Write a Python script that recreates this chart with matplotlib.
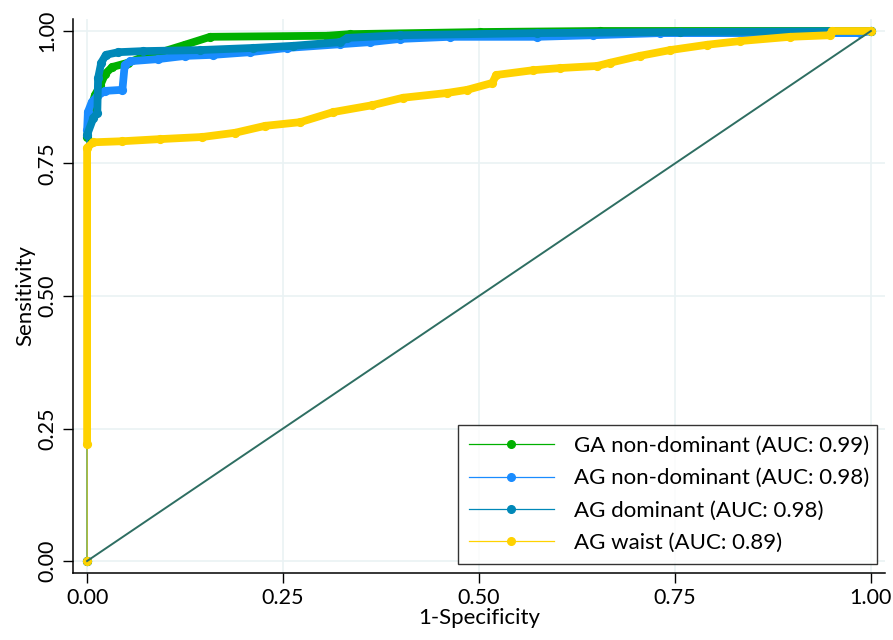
import matplotlib
matplotlib.use("Agg")
import matplotlib.pyplot as plt
from matplotlib.lines import Line2D

plt.rcParams['font.family'] = ['Lato', 'DejaVu Sans']

# ---- data ----
ga_nd_fpr = [0, 0, 0.003, 0.006, 0.010, 0.017, 0.023, 0.032, 0.052, 0.068, 0.090, 0.125, 0.157, 0.306, 0.335, 0.501, 0.654, 1.0]
ga_nd_tpr = [0, 0.80, 0.836, 0.860, 0.879, 0.898, 0.919, 0.932, 0.940, 0.949, 0.958, 0.974, 0.989, 0.991, 0.994, 0.998, 1.0, 1.0]

ag_nd_fpr = [0, 0, 0.001, 0.006, 0.013, 0.023, 0.045, 0.048, 0.055, 0.091, 0.125, 0.161, 0.208, 0.255, 0.323, 0.361, 0.399, 0.463, 0.574, 0.645, 0.731, 0.986, 1.0]
ag_nd_tpr = [0, 0.813, 0.847, 0.866, 0.877, 0.887, 0.889, 0.936, 0.943, 0.947, 0.953, 0.955, 0.960, 0.968, 0.975, 0.979, 0.985, 0.989, 0.989, 0.992, 0.996, 0.996, 1.0]

ag_d_fpr = [0, 0, 0.008, 0.013, 0.014, 0.018, 0.024, 0.040, 0.071, 0.144, 0.212, 0.263, 0.323, 0.332, 0.399, 0.574, 0.756, 1.0]
ag_d_tpr = [0, 0.804, 0.836, 0.845, 0.911, 0.940, 0.955, 0.960, 0.962, 0.964, 0.968, 0.972, 0.979, 0.987, 0.992, 0.996, 0.998, 1.0]

ag_w_fpr = [0, 0, 0, 0.008, 0.045, 0.093, 0.147, 0.189, 0.227, 0.272, 0.314, 0.364, 0.403, 0.459, 0.485, 0.517, 0.522, 0.569, 0.603, 0.651, 0.667, 0.705, 0.744, 0.791, 0.833, 0.897, 0.948, 0.950, 1.0]
ag_w_tpr = [0, 0.22, 0.78, 0.790, 0.792, 0.796, 0.800, 0.808, 0.821, 0.828, 0.847, 0.860, 0.874, 0.883, 0.889, 0.902, 0.917, 0.926, 0.930, 0.934, 0.940, 0.953, 0.964, 0.974, 0.981, 0.989, 0.992, 1.0, 1.0]

labels = ["GA non-dominant (AUC: 0.99)", "AG non-dominant (AUC: 0.98)",
          "AG dominant (AUC: 0.98)", "AG waist (AUC: 0.89)"]
colors = ["#00b000", "#1a8cff", "#0088b8", "#ffd200"]
ref_color = "#2e6e62"

ticks = [0, 0.25, 0.5, 0.75, 1.0]
tick_labels = ["0.00", "0.25", "0.50", "0.75", "1.00"]

series = [(ga_nd_fpr, ga_nd_tpr), (ag_nd_fpr, ag_nd_tpr),
          (ag_d_fpr, ag_d_tpr), (ag_w_fpr, ag_w_tpr)]

fig = plt.figure(figsize=(8.93, 6.40), dpi=100)
ax = fig.add_axes([73/893, 1-573/640, (885-73)/893, (573-19)/640])

for t in ticks:
    ax.axhline(t, color="#eaf2f4", lw=1.2, zorder=0)
    ax.axvline(t, color="#eaf2f4", lw=1.2, zorder=0)

handles = []
for (fx, ty), c, lab in zip(series, colors, labels):
    ax.plot(fx, ty, color=c, lw=0.8, zorder=2)
    ax.plot(fx[1:], ty[1:], color=c, lw=5.6, solid_capstyle='round',
            solid_joinstyle='round', zorder=2)
    ax.plot(fx, ty, ls='none', marker='o', ms=5.6, color=c, mec=c, zorder=2)
    handles.append(Line2D([], [], color=c, lw=0.9, marker='o', ms=5.5, mec=c))

ax.plot([0, 1], [0, 1], color=ref_color, lw=1.4, zorder=3)

ax.set_xlim(-0.018, 1.018)
ax.set_ylim(-0.0226, 1.0226)
ax.set_xticks(ticks)
ax.set_xticklabels(tick_labels)
ax.set_yticks(ticks)
ax.set_yticklabels(tick_labels, rotation=90, va='center')
ax.tick_params(direction='out', length=7, width=1, labelsize=15.5, pad=4)
for s in ['top', 'right']:
    ax.spines[s].set_visible(False)
for s in ['left', 'bottom']:
    ax.spines[s].set_linewidth(1.1)

ax.set_xlabel("1-Specificity", fontsize=16, labelpad=0)
ax.set_ylabel("Sensitivity", fontsize=16, labelpad=2)

leg = fig.legend(handles, labels, loc='upper left',
                 bbox_to_anchor=(458/893, 1-425/640, (877-458)/893, 0),
                 mode='expand', fontsize=16, frameon=True, fancybox=False,
                 edgecolor='black', handlelength=3.8, handletextpad=0.9,
                 borderpad=0.5, labelspacing=0.55, borderaxespad=0)
leg.get_frame().set_linewidth(1.0)

fig.savefig("out.png", dpi=100)
